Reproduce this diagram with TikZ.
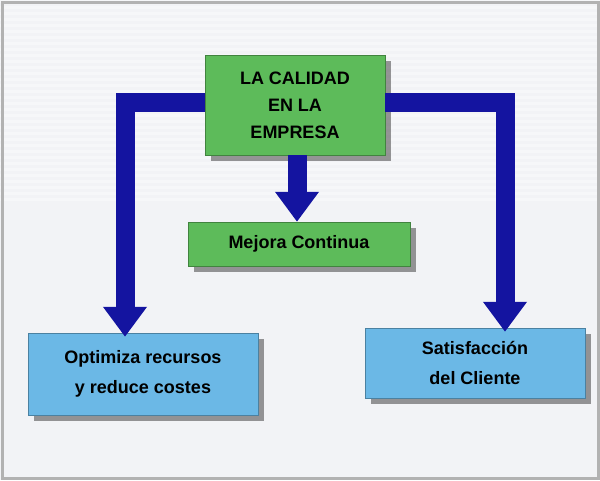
\documentclass[tikz,border=0pt]{standalone}
\usepackage{fontspec}
\setmainfont{Liberation Sans}
\usetikzlibrary{arrows.meta,shadows}
\definecolor{gbox}{HTML}{5DBB5A}
\definecolor{bbox}{HTML}{6BB8E6}
\definecolor{arr}{HTML}{1414A0}
\definecolor{bg}{HTML}{F2F3F6}
\tikzset{
 boxg/.style={draw=gbox!70!black,fill=gbox,font=\bfseries\fontsize{18}{27}\selectfont,align=center,inner sep=0pt,drop shadow={shadow xshift=6pt,shadow yshift=-6pt,fill=black!80}},
 boxb/.style={draw=bbox!70!black,fill=bbox,font=\bfseries\fontsize{18}{30}\selectfont,align=center,inner sep=0pt,drop shadow={shadow xshift=6pt,shadow yshift=-6pt,fill=black!80}},
 flow/.style={draw=arr,line width=19pt,-{Triangle[length=30pt,width=42pt]}}
}
\begin{document}
\begin{tikzpicture}[x=1pt,y=-1pt]
\useasboundingbox (0,0) rectangle (600,480);
\fill[bg] (0,0) rectangle (600,480);
\foreach \i in {0,6,...,200}{\fill[white,opacity=0.35] (0,\i) rectangle (600,\i+3);}
\draw[gray!60,line width=3pt] (2,2) rectangle (598,478);
\node[boxg,minimum width=180pt,minimum height=100pt] (top) at (295,105) {LA CALIDAD\\EN LA\\EMPRESA};
\node[boxg,minimum width=222pt,minimum height=44pt] (mid) at (299,244) {Mejora Continua};
\node[boxb,minimum width=230pt,minimum height=82pt] (left) at (143,374) {Optimiza recursos\\y reduce costes};
\node[boxb,minimum width=220pt,minimum height=70pt] (right) at (475,363) {Satisfacción\\del Cliente};
\coordinate (lc) at (125,102);
\coordinate (rc) at (505,102);
\draw[flow] (top.west|-lc) -- (lc) -- ([yshift=-4pt]left.north-|lc);
\draw[flow] (top.east|-rc) -- (rc) -- ([yshift=-4pt]right.north-|rc);
\draw[flow] (top.south-|297,0) -- (mid.north-|297,0);
\end{tikzpicture}
\end{document}
